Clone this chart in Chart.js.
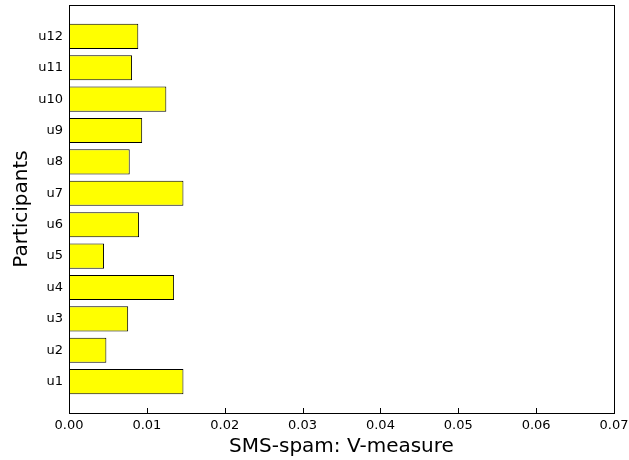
<!DOCTYPE html>
<html>
<head>
<meta charset="utf-8">
<script src="https://cdn.jsdelivr.net/npm/chart.js@4/dist/chart.umd.min.js"></script>
<style>
  html, body { margin: 0; padding: 0; background: #fff; }
  #wrap { width: 629px; height: 460px; }
</style>
</head>
<body>
<div id="wrap"><canvas id="chart" width="629" height="460"></canvas></div>
<script>
// participants, bottom to top
const participants = ['u1', 'u2', 'u3', 'u4', 'u5', 'u6', 'u7', 'u8', 'u9', 'u10', 'u11', 'u12'];
const vMeasure = [0.0147, 0.0048, 0.0076, 0.0135, 0.0045, 0.0090, 0.0147, 0.0078, 0.0094, 0.0125, 0.0081, 0.0089];
const xTicks = [0.00, 0.01, 0.02, 0.03, 0.04, 0.05, 0.06, 0.07];

const FONT = "'DejaVu Sans', sans-serif";

// box around the plot and the small inward ticks on the x axis
const frame = {
  id: 'frame',
  afterDraw(chart) {
    const { ctx, chartArea: a, scales } = chart;
    ctx.save();
    ctx.strokeStyle = '#000';
    ctx.lineWidth = 1;
    ctx.beginPath();
    xTicks.forEach(t => {
      const px = Math.round(scales.x.getPixelForValue(t)) + 0.5;
      ctx.moveTo(px, a.bottom);
      ctx.lineTo(px, a.bottom - 5);
    });
    ctx.stroke();
    ctx.strokeRect(Math.round(a.left) + 0.5, Math.round(a.top) + 0.5,
      Math.round(a.right - a.left), Math.round(a.bottom - a.top));
    ctx.restore();
  }
};

new Chart(document.getElementById('chart').getContext('2d'), {
  type: 'bar',
  data: {
    datasets: [{
      data: vMeasure.map((v, i) => ({ x: v, y: i + 1 })),
      backgroundColor: '#ffff00',
      borderColor: '#000',
      borderWidth: 1,
      borderSkipped: false,
      categoryPercentage: 1,
      barPercentage: 0.8
    }]
  },
  options: {
    indexAxis: 'y',
    responsive: false,
    animation: false,
    layout: { padding: { top: 5, right: 15, left: 0, bottom: 0 } },
    plugins: { legend: { display: false }, tooltip: { enabled: false } },
    scales: {
      x: {
        type: 'linear',
        min: 0,
        max: 0.07,
        afterFit(scale) {
          scale.height = 47;
          scale.paddingLeft = 0;
          scale.paddingRight = 0;
        },
        grid: { display: false, drawTicks: false },
        border: { display: false },
        ticks: {
          stepSize: 0.01,
          padding: 5,
          color: '#000',
          font: { family: FONT, size: 13 },
          callback: v => v.toFixed(2)
        },
        title: {
          display: true,
          text: 'SMS-spam: V-measure',
          color: '#000',
          font: { family: FONT, size: 20 },
          padding: { top: 0, bottom: 1 }
        }
      },
      y: {
        type: 'linear',
        min: 0,
        max: 13,
        offset: false,
        afterFit(scale) {
          scale.width = 69;
          scale.paddingTop = 0;
          scale.paddingBottom = 0;
        },
        grid: { display: false, drawTicks: false },
        border: { display: false },
        ticks: {
          stepSize: 1,
          padding: 6,
          color: '#000',
          font: { family: FONT, size: 13 },
          callback: v => participants[v - 1] || ''
        },
        title: {
          display: true,
          text: 'Participants',
          color: '#000',
          font: { family: FONT, size: 20 },
          padding: { top: 10, bottom: 4 }
        }
      }
    }
  },
  plugins: [frame]
});
</script>
</body>
</html>
